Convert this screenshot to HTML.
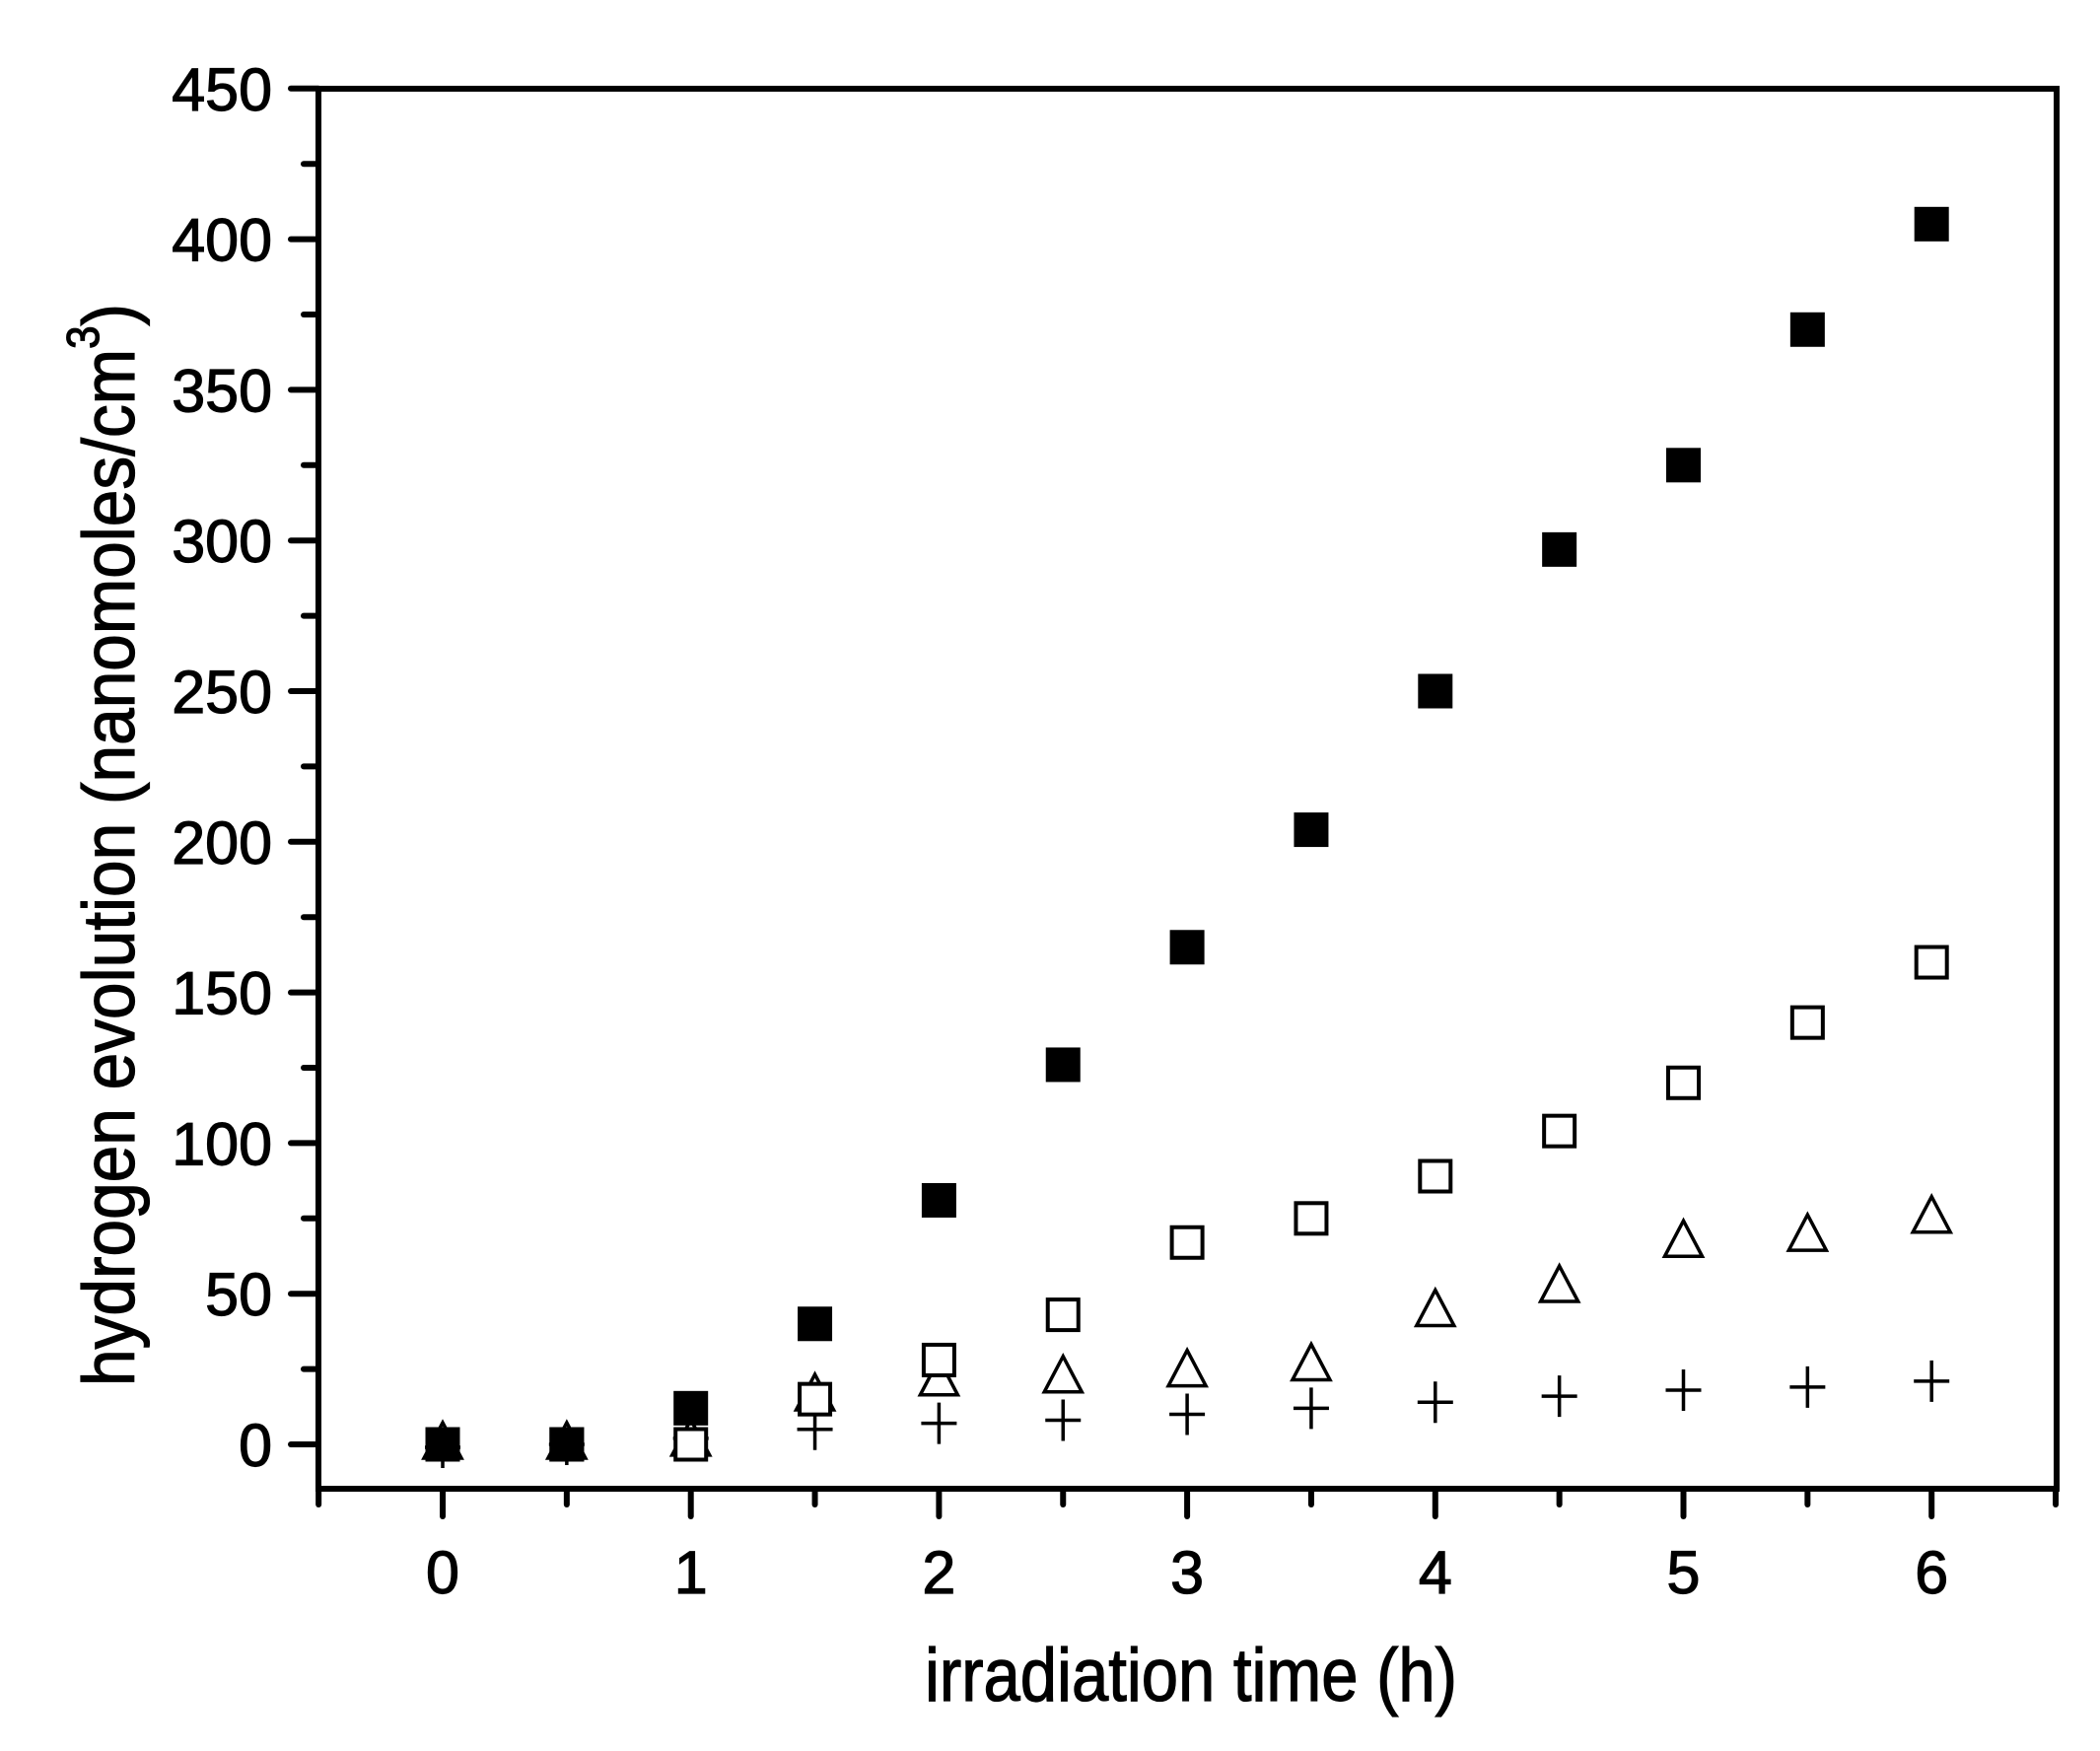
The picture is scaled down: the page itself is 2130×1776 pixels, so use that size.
<!DOCTYPE html>
<html><head><meta charset="utf-8"><style>html,body{margin:0;padding:0;background:#fff}svg{display:block}</style></head>
<body>
<svg width="2130" height="1776" viewBox="0 0 2130 1776" xmlns="http://www.w3.org/2000/svg" font-family="Liberation Sans, Arial, sans-serif">
<rect width="2130" height="1776" fill="#fff"/>
<g id="ticks" stroke="#000" stroke-width="6" stroke-linecap="round"></g>
<g id="labels" font-size="61" fill="#000" stroke="#000" stroke-width="1.2"></g>
<g id="data"></g>
<rect x="323" y="90" width="1763" height="1420" fill="none" stroke="#000" stroke-width="6"/>
<text x="1208" y="1725" font-size="76" text-anchor="middle" textLength="540" lengthAdjust="spacingAndGlyphs" stroke="#000" stroke-width="1.2">irradiation time (h)</text>
<text transform="translate(136,1406) rotate(-90)" font-size="74" textLength="1098" lengthAdjust="spacingAndGlyphs" stroke="#000" stroke-width="1.2">hydrogen evolution (nanomoles/cm<tspan dy="-36" font-size="46">3</tspan><tspan dy="36">)</tspan></text>
<script>
var NS="http://www.w3.org/2000/svg";
function X(t){return 449+t*251.7}
function Y(v){return 1465-v*3.056}
function el(p,tag,a,txt){var e=document.createElementNS(NS,tag);for(var k in a)e.setAttribute(k,a[k]);if(txt!==undefined)e.textContent=txt;p.appendChild(e);return e}
var tk=document.getElementById('ticks'),lb=document.getElementById('labels'),dt=document.getElementById('data');
for(var v=0;v<=450;v+=25){var maj=v%50==0;var y=Y(v);el(tk,'line',{x1:maj?295:308,y1:y,x2:323,y2:y});if(maj)el(lb,'text',{x:276,y:y+22,'text-anchor':'end'},String(v));}
for(var t=-0.5;t<=6.5;t+=0.5){var maj=Math.abs(t-Math.round(t))<1e-6;var x=X(t);el(tk,'line',{x1:x,y1:1510,x2:x,y2:maj?1538:1526});if(maj&&t>=0&&t<=6)el(lb,'text',{x:x,y:1616,'text-anchor':'middle'},String(t));}
var ts=[0,0.5,1,1.5,2,2.5,3,3.5,4,4.5,5,5.5,6];
var fs=[0,0,12,40,81,126,165,204,250,297,325,370,405];
var os=[0,0,0,15,28,43,67,75,89,104,120,140,160];
var tr=[1,1,2,17,22,23,25,27,45,53,68,70,76];
var pl=[-1,0,2,5,7,8,10,12,14,16,18,19,21];
ts.forEach(function(t,i){var x=X(t),y=Y(pl[i]);
 el(dt,'path',{d:'M'+(x-18)+' '+y+'H'+(x+18)+'M'+x+' '+(y-21)+'V'+(y+21),stroke:'#000','stroke-width':3.5,fill:'none'});});
ts.forEach(function(t,i){var x=X(t),y=Y(tr[i]);
 el(dt,'path',{d:'M'+x+' '+(y-19)+'L'+(x+19)+' '+(y+17)+'L'+(x-19)+' '+(y+17)+'Z',stroke:'#000','stroke-width':3.5,fill:'#fff'});});
ts.forEach(function(t,i){var x=X(t),y=Y(os[i]);
 el(dt,'rect',{x:x-15.5,y:y-15.5,width:31,height:31,stroke:'#000','stroke-width':4,fill:'#fff'});});
ts.forEach(function(t,i){var x=X(t),y=Y(fs[i]);
 el(dt,'rect',{x:x-17.5,y:y-17.5,width:35,height:35,fill:'#000'});});
</script>
</svg>
</body></html>
